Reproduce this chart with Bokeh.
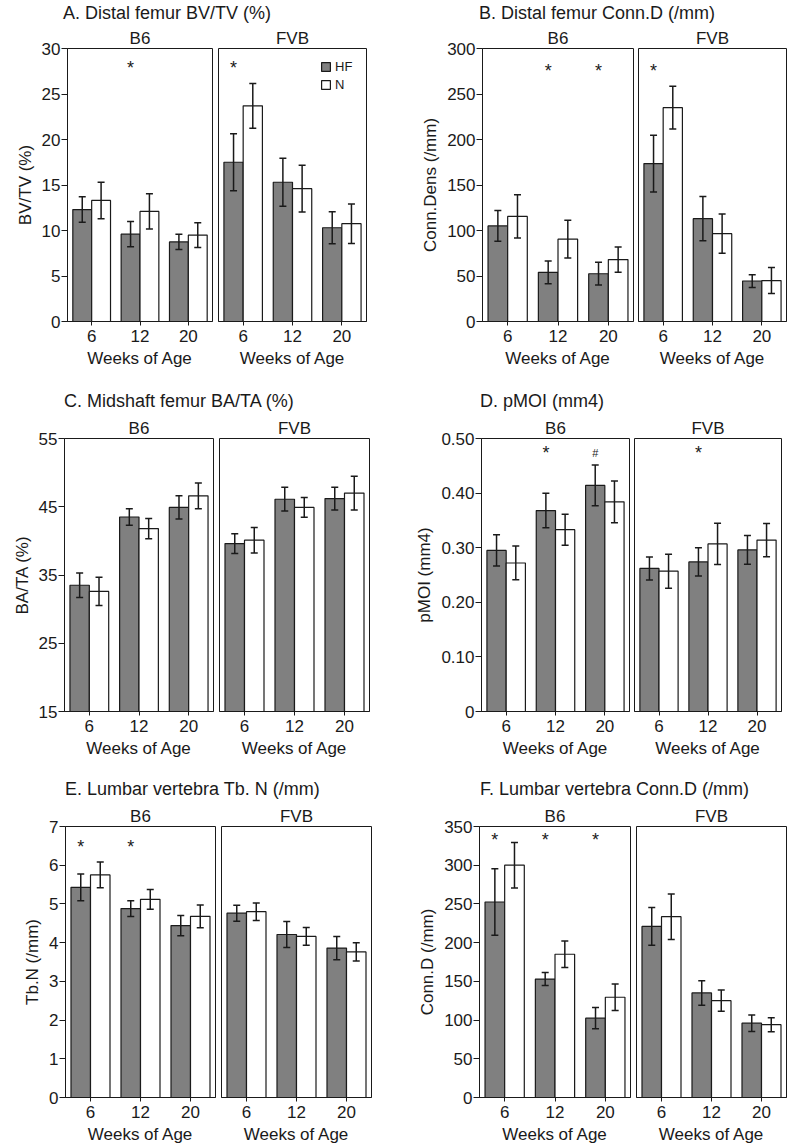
from bokeh.plotting import figure
from bokeh.models import (ColumnDataSource, Range1d, FactorRange, Whisker, FixedTicker,
                          Div, Legend, LegendItem)
from bokeh.layouts import column, row
from bokeh.transform import dodge
from bokeh.core.properties import value
from bokeh.embed import file_html
from bokeh.resources import INLINE

# ---------------- data ----------------
weeks = ["6", "12", "20"]
strains = ["B6", "FVB"]

# A. Distal femur BV/TV (%)
a_b6_hf = [12.3, 9.6, 8.75];   a_b6_hf_err = [1.40, 1.39, 0.85]
a_b6_n = [13.3, 12.1, 9.5];    a_b6_n_err = [2.00, 1.93, 1.36]
a_fvb_hf = [17.5, 15.3, 10.3]; a_fvb_hf_err = [3.12, 2.63, 1.76]
a_fvb_n = [23.7, 14.6, 10.75]; a_fvb_n_err = [2.46, 2.57, 2.17]
a_ticks = [0, 5, 10, 15, 20, 25, 30]
a_stars = [("B6", "12", 28.2, "*"), ("FVB", "6", 28.2, "*")]

# B. Distal femur Conn.D (/mm)
b_b6_hf = [105, 54, 52.5];     b_b6_hf_err = [16.9, 12.5, 12.5]
b_b6_n = [115.5, 90.5, 68];    b_b6_n_err = [23.8, 20.7, 13.8]
b_fvb_hf = [173.5, 113, 44.5]; b_fvb_hf_err = [31.3, 24.4, 7.0]
b_fvb_n = [235, 96.5, 45];     b_fvb_n_err = [23.5, 21.5, 14.3]
b_ticks = [0, 50, 100, 150, 200, 250, 300]
b_stars = [("B6", "12", 279, "*"), ("B6", "20", 279, "*"), ("FVB", "6", 279, "*")]

# C. Midshaft femur BA/TA (%)
c_b6_hf = [33.5, 43.5, 44.9];  c_b6_hf_err = [1.81, 1.20, 1.71]
c_b6_n = [32.6, 41.8, 46.6];   c_b6_n_err = [2.08, 1.49, 1.89]
c_fvb_hf = [39.6, 46.1, 46.2]; c_fvb_hf_err = [1.44, 1.74, 1.66]
c_fvb_n = [40.1, 44.9, 47.0];  c_fvb_n_err = [1.86, 1.44, 2.47]
c_ticks = [15, 25, 35, 45, 55]
c_stars = []

# D. pMOI (mm4)
d_b6_hf = [0.295, 0.368, 0.414];  d_b6_hf_err = [0.0287, 0.0315, 0.0373]
d_b6_n = [0.272, 0.333, 0.384];   d_b6_n_err = [0.0309, 0.0284, 0.0382]
d_fvb_hf = [0.262, 0.274, 0.296]; d_fvb_hf_err = [0.0211, 0.0257, 0.0263]
d_fvb_n = [0.257, 0.307, 0.314];  d_fvb_n_err = [0.0312, 0.0379, 0.0305]
d_ticks = [0, 0.1, 0.2, 0.3, 0.4, 0.5]
d_tick_labels = ["0", "0.10", "0.20", "0.30", "0.40", "0.50"]
d_stars = [("B6", "12", 0.479, "*"), ("B6", "20", 0.479, "#"), ("FVB", "12", 0.479, "*")]

# E. Lumbar vertebra Tb. N (/mm)
e_b6_hf = [5.43, 4.88, 4.44];  e_b6_hf_err = [0.345, 0.205, 0.26]
e_b6_n = [5.75, 5.12, 4.68];   e_b6_n_err = [0.33, 0.255, 0.295]
e_fvb_hf = [4.76, 4.21, 3.86]; e_fvb_hf_err = [0.205, 0.335, 0.30]
e_fvb_n = [4.80, 4.16, 3.76];  e_fvb_n_err = [0.225, 0.23, 0.235]
e_ticks = [0, 1, 2, 3, 4, 5, 6, 7]
e_stars = [("B6", "6", 6.56, "*"), ("B6", "12", 6.56, "*")]

# F. Lumbar vertebra Conn.D (/mm)
f_b6_hf = [252.5, 153, 102.5]; f_b6_hf_err = [42.9, 8.35, 13.7]
f_b6_n = [300, 185, 129.5];    f_b6_n_err = [29.4, 17.0, 17.0]
f_fvb_hf = [221, 135, 96];     f_fvb_hf_err = [24.5, 15.7, 10.7]
f_fvb_n = [233.5, 125, 94];    f_fvb_n_err = [29.4, 13.7, 9.0]
f_ticks = [0, 50, 100, 150, 200, 250, 300, 350]
f_stars = [("B6", "6", 336, "*"), ("B6", "12", 336, "*"), ("B6", "20", 336, "*")]

# ---------------- style ----------------
FONT = "Liberation Sans"
INK = "#1a1a1a"
GRAY = "#808080"
BAR_W = 0.39
OFF = 0.195
DIV_H = 20

# row geometry (page coords): div_margin_top, div_top, fig_top, frame_top, frame_bottom, fig_bottom
ROWS = [
    (3, 3, 23, 48, 321, 391),
    (0, 391, 411, 438, 711, 779),
    (0, 779, 799, 826, 1097, 1148),
]
LEFT_X0, MID_X, RIGHT_X1 = 0, 390, 794


def make_fig(x0, x1, fl, fr, geo, strip, y0, y1, ticks, tick_labels, ylabel,
             with_y, title_off):
    _, div_top, fig_top, ft, fb, fig_bottom = geo
    p = figure(width=x1 - x0, height=fig_bottom - fig_top,
               x_range=FactorRange(factors=weeks), y_range=Range1d(y0, y1),
               min_border_left=fl - x0, min_border_right=x1 - fr,
               min_border_top=ft - fig_top, min_border_bottom=fig_bottom - fb,
               output_backend="svg", toolbar_location=None,
               y_axis_location="left" if with_y else None, title=strip)
    p.title.align = "center"
    p.title.text_font = FONT
    p.title.text_font_size = "17px"
    p.title.text_font_style = "normal"
    p.title.text_color = INK
    p.title.offset = title_off
    p.title.standoff = 2
    p.xgrid.visible = False
    p.ygrid.visible = False
    p.outline_line_color = INK
    p.outline_line_width = 1
    p.background_fill_color = "white"
    p.border_fill_color = "white"

    xa = p.xaxis[0]
    xa.axis_label = "Weeks of Age"
    xa.axis_label_text_font = FONT
    xa.axis_label_text_font_size = "17px"
    xa.axis_label_text_font_style = "normal"
    xa.axis_label_text_color = INK
    xa.axis_label_standoff = 4
    xa.major_label_text_font = FONT
    xa.major_label_text_font_size = "17px"
    xa.major_label_text_color = INK
    xa.major_label_standoff = 4
    xa.major_tick_out = 4
    xa.major_tick_in = 0
    xa.axis_line_color = INK
    xa.major_tick_line_color = INK

    if with_y:
        ya = p.yaxis[0]
        ya.ticker = FixedTicker(ticks=ticks)
        if tick_labels is not None:
            ya.major_label_overrides = {t: l for t, l in zip(ticks, tick_labels)}
        ya.axis_label = ylabel
        ya.axis_label_text_font = FONT
        ya.axis_label_text_font_size = "17px"
        ya.axis_label_text_font_style = "normal"
        ya.axis_label_text_color = INK
        ya.axis_label_standoff = 4
        ya.major_label_text_font = FONT
        ya.major_label_text_font_size = "17px"
        ya.major_label_text_color = INK
        ya.major_label_standoff = 1
        ya.major_tick_out = 6
        ya.major_tick_in = 0
        ya.minor_tick_line_color = None
        ya.axis_line_color = INK
        ya.major_tick_line_color = INK
    return p


def add_bars(p, y0, hf, hf_err, n, n_err, stars, strain):
    src = ColumnDataSource(dict(
        week=weeks, hf=hf, n=n,
        hf_lo=[m - e for m, e in zip(hf, hf_err)], hf_hi=[m + e for m, e in zip(hf, hf_err)],
        n_lo=[m - e for m, e in zip(n, n_err)], n_hi=[m + e for m, e in zip(n, n_err)],
    ))
    r_hf = p.vbar(x=dodge("week", -OFF, range=p.x_range), top="hf", bottom=y0, width=BAR_W,
                  source=src, fill_color=GRAY, line_color=INK, line_width=1.2)
    r_n = p.vbar(x=dodge("week", OFF, range=p.x_range), top="n", bottom=y0, width=BAR_W,
                 source=src, fill_color="white", line_color=INK, line_width=1.2)
    for off, lo, hi in ((-OFF, "hf_lo", "hf_hi"), (OFF, "n_lo", "n_hi")):
        w = Whisker(base=dodge("week", off, range=p.x_range), lower=lo, upper=hi,
                    source=src, level="annotation", line_color=INK, line_width=1.5)
        for h in (w.upper_head, w.lower_head):
            h.size = 7
            h.line_color = INK
            h.line_width = 1.5
        p.add_layout(w)
    sel = [s for s in stars if s[0] == strain]
    if sel:
        s_star = ColumnDataSource(dict(week=[s[1] for s in sel], y=[s[2] for s in sel],
                                       t=[s[3] for s in sel],
                                       fs=["18px" if s[3] == "*" else "11px" for s in sel]))
        p.text(x=dodge("week", -OFF, range=p.x_range), y="y", text="t", source=s_star,
               text_align="center", text_baseline="middle", text_font=value(FONT),
               text_font_size="fs", text_color=INK, y_offset=3)
    return r_hf, r_n


def panel(title, title_x, x0, x1, geo, b6_lr, fvb_lr, y0, y1, ticks, tick_labels, ylabel,
          b6_hf, b6_hf_err, b6_n, b6_n_err, fvb_hf, fvb_hf_err, fvb_n, fvb_n_err, stars,
          legend=False):
    split = b6_lr[1] + 2
    p1 = make_fig(x0, split, b6_lr[0], b6_lr[1], geo, "B6", y0, y1, ticks, tick_labels,
                  ylabel, True, 4)
    p2 = make_fig(split, x1, fvb_lr[0], fvb_lr[1], geo, "FVB", y0, y1, ticks, tick_labels,
                  ylabel, False, 7)
    add_bars(p1, y0, b6_hf, b6_hf_err, b6_n, b6_n_err, stars, "B6")
    r_hf, r_n = add_bars(p2, y0, fvb_hf, fvb_hf_err, fvb_n, fvb_n_err, stars, "FVB")
    if legend:
        lg = Legend(items=[LegendItem(label="HF", renderers=[r_hf]),
                           LegendItem(label="N", renderers=[r_n])],
                    location="top_right", margin=11, padding=0, spacing=3,
                    glyph_width=11, glyph_height=11, label_standoff=4, label_height=14,
                    label_text_font=FONT, label_text_font_size="13px",
                    label_text_color=INK, background_fill_alpha=0, border_line_alpha=0)
        p2.add_layout(lg)
    ml = title_x - x0
    d = Div(text=title, width=(x1 - x0) - ml, height=DIV_H, margin=(geo[0], 0, 0, ml),
            styles={"font-family": "'Liberation Sans', Arial, sans-serif",
                    "font-size": "18px", "line-height": "20px",
                    "white-space": "nowrap", "color": INK})
    return column(d, row(p1, p2, spacing=0), spacing=0)


pA = panel("A. Distal femur BV/TV (%)", 63, LEFT_X0, MID_X, ROWS[0], (67, 212), (218, 366),
           0, 30, a_ticks, None, "BV/TV (%)",
           a_b6_hf, a_b6_hf_err, a_b6_n, a_b6_n_err, a_fvb_hf, a_fvb_hf_err, a_fvb_n, a_fvb_n_err,
           a_stars, legend=True)
pB = panel("B. Distal femur Conn.D (/mm)", 479, MID_X, RIGHT_X1, ROWS[0], (482, 633), (638, 786),
           0, 300, b_ticks, None, "Conn.Dens (/mm)",
           b_b6_hf, b_b6_hf_err, b_b6_n, b_b6_n_err, b_fvb_hf, b_fvb_hf_err, b_fvb_n, b_fvb_n_err,
           b_stars)
pC = panel("C. Midshaft femur BA/TA (%)", 64, LEFT_X0, MID_X, ROWS[1], (64, 213), (219, 369),
           15, 55, c_ticks, None, "BA/TA (%)",
           c_b6_hf, c_b6_hf_err, c_b6_n, c_b6_n_err, c_fvb_hf, c_fvb_hf_err, c_fvb_n, c_fvb_n_err,
           c_stars)
pD = panel("D. pMOI (mm4)", 480, MID_X, RIGHT_X1, ROWS[1], (481, 629), (634, 781),
           0, 0.5, d_ticks, d_tick_labels, "pMOI (mm4)",
           d_b6_hf, d_b6_hf_err, d_b6_n, d_b6_n_err, d_fvb_hf, d_fvb_hf_err, d_fvb_n, d_fvb_n_err,
           d_stars)
pE = panel("E. Lumbar vertebra Tb. N (/mm)", 65, LEFT_X0, MID_X, ROWS[2], (65, 215), (221, 371),
           0, 7, e_ticks, None, "Tb.N (/mm)",
           e_b6_hf, e_b6_hf_err, e_b6_n, e_b6_n_err, e_fvb_hf, e_fvb_hf_err, e_fvb_n, e_fvb_n_err,
           e_stars)
pF = panel("F. Lumbar vertebra Conn.D (/mm)", 480, MID_X, RIGHT_X1, ROWS[2], (479, 630), (636, 786),
           0, 350, f_ticks, None, "Conn.D (/mm)",
           f_b6_hf, f_b6_hf_err, f_b6_n, f_b6_n_err, f_fvb_hf, f_fvb_hf_err, f_fvb_n, f_fvb_n_err,
           f_stars)

layout = column(row(pA, pB, spacing=0), row(pC, pD, spacing=0), row(pE, pF, spacing=0), spacing=0)

open("out.html", "w").write(file_html(layout, INLINE))
